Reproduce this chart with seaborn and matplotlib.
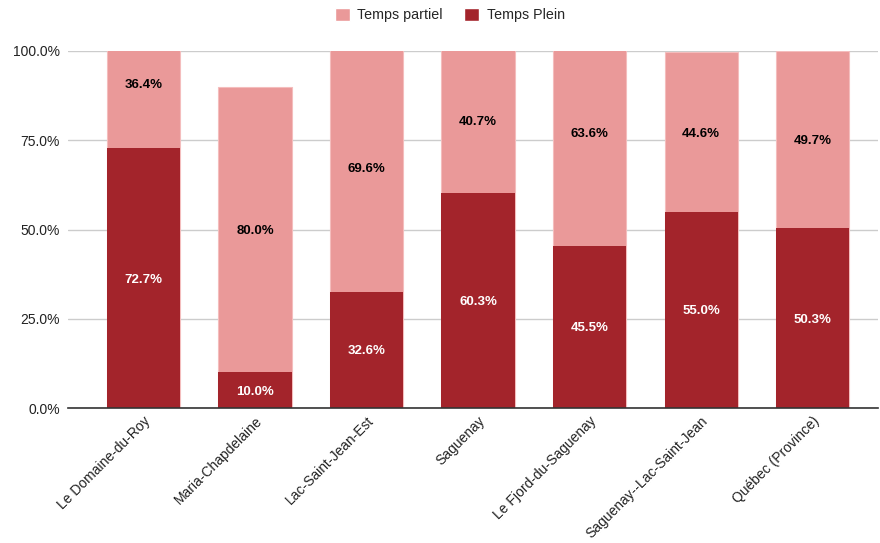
import matplotlib
matplotlib.use("Agg")
import matplotlib.pyplot as plt
import seaborn as sns
import pandas as pd
from matplotlib.patches import Patch
from matplotlib.ticker import FuncFormatter

# données
regions = ["Le Domaine-du-Roy", "Maria-Chapdelaine", "Lac-Saint-Jean-Est", "Saguenay",
           "Le Fjord-du-Saguenay", "Saguenay--Lac-Saint-Jean", "Québec (Province)"]
temps_plein = [72.7, 10.0, 32.6, 60.3, 45.5, 55.0, 50.3]
temps_partiel = [36.4, 80.0, 69.6, 40.7, 63.6, 44.6, 49.7]

COLOR_PLEIN = "#A3242B"
COLOR_PARTIEL = "#EA9999"

df = pd.DataFrame({"Region": regions, "Plein": temps_plein, "Partiel": temps_partiel})
df["Total"] = df["Plein"] + df["Partiel"]

sns.set_theme(style="white")
plt.rcParams["font.family"] = ["Liberation Sans", "DejaVu Sans"]

fig = plt.figure(figsize=(8.8, 5.43), dpi=100)
ax = fig.add_axes([68 / 880, 1 - 408 / 543, 810 / 880, 357 / 543])

sns.barplot(ax=ax, data=df, x="Region", y="Total", color=COLOR_PARTIEL, width=0.655,
            saturation=1, edgecolor="#F4BDBD", linewidth=0.8)
sns.barplot(ax=ax, data=df, x="Region", y="Plein", color=COLOR_PLEIN, width=0.655,
            saturation=1, linewidth=0)

# étiquettes des segments
for i, (p, q) in enumerate(zip(temps_plein, temps_partiel)):
    ax.text(i, p / 2, f"{p:.1f}%", ha="center", va="center_baseline", color="white",
            fontsize=9.5, fontweight="bold")
    ax.text(i, p + q / 2, f"{q:.1f}%", ha="center", va="center_baseline", color="black",
            fontsize=9.5, fontweight="bold")

ax.set_ylim(0, 100)
ax.set_xlim(-0.677, 6.587)
ax.set_yticks([0, 25, 50, 75, 100])
ax.yaxis.set_major_formatter(FuncFormatter(lambda v, _: f"{v:.1f}%"))
ax.grid(axis="y", color="#CCCCCC", linewidth=1)
ax.set_axisbelow(True)
for s in ["top", "right", "left"]:
    ax.spines[s].set_visible(False)
ax.spines["bottom"].set_color("#333333")
ax.spines["bottom"].set_linewidth(1.2)
ax.set_xlabel("")
ax.set_ylabel("")
ax.tick_params(axis="both", length=0, labelsize=10, colors="#222222")
ax.tick_params(axis="y", pad=6)
ax.tick_params(axis="x", pad=4)
plt.setp(ax.get_xticklabels(), rotation=45, ha="right", rotation_mode="anchor")

handles = [Patch(facecolor=COLOR_PARTIEL, label="Temps partiel"),
           Patch(facecolor=COLOR_PLEIN, label="Temps Plein")]
fig.legend(handles=handles, loc="center", bbox_to_anchor=(450 / 880, 1 - 15 / 543), ncol=2,
           frameon=False, fontsize=10.3, handlelength=1.0, handleheight=1.0,
           columnspacing=1.5, handletextpad=0.55)

fig.savefig("out.png", dpi=100)
